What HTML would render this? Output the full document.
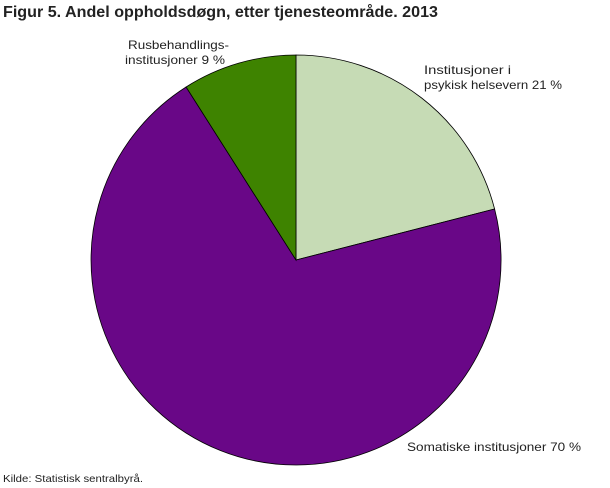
<!DOCTYPE html>
<html><head><meta charset="utf-8"><style>
body{margin:0;background:#fff;width:610px;height:488px;overflow:hidden;font-family:"Liberation Sans",sans-serif;}
</style></head><body>
<svg width="610" height="488" xmlns="http://www.w3.org/2000/svg" style="position:absolute;left:0;top:0">
<text x="3" y="17" font-family="Liberation Sans, sans-serif" font-size="16" font-weight="bold" fill="#222" textLength="435" lengthAdjust="spacingAndGlyphs">Figur 5. Andel oppholdsdøgn, etter tjenesteområde. 2013</text>
<path d="M296,260 L296,55 A205,205 0 0 1 494.6,209 Z" fill="#c6dbb5" stroke="#000" stroke-width="0.8"/>
<path d="M296,260 L494.6,209 A205,205 0 1 1 186.1,87 Z" fill="#690787" stroke="#000" stroke-width="0.8"/>
<path d="M296,260 L186.1,87 A205,205 0 0 1 296,55 Z" fill="#3e8300" stroke="#000" stroke-width="0.8"/>
<g font-family="Liberation Sans, sans-serif" font-size="12" fill="#222">
<text x="128" y="49" textLength="101" lengthAdjust="spacingAndGlyphs">Rusbehandlings-</text>
<text x="125" y="64" textLength="100" lengthAdjust="spacingAndGlyphs">institusjoner 9 %</text>
<text x="424" y="74" textLength="87" lengthAdjust="spacingAndGlyphs">Institusjoner i</text>
<text x="424" y="89" textLength="138" lengthAdjust="spacingAndGlyphs">psykisk helsevern 21 %</text>
<text x="407" y="451" textLength="174" lengthAdjust="spacingAndGlyphs">Somatiske institusjoner 70 %</text>
<text x="3" y="482" font-size="10.5" textLength="140" lengthAdjust="spacingAndGlyphs">Kilde: Statistisk sentralbyrå.</text>
</g>
</svg>
</body></html>
